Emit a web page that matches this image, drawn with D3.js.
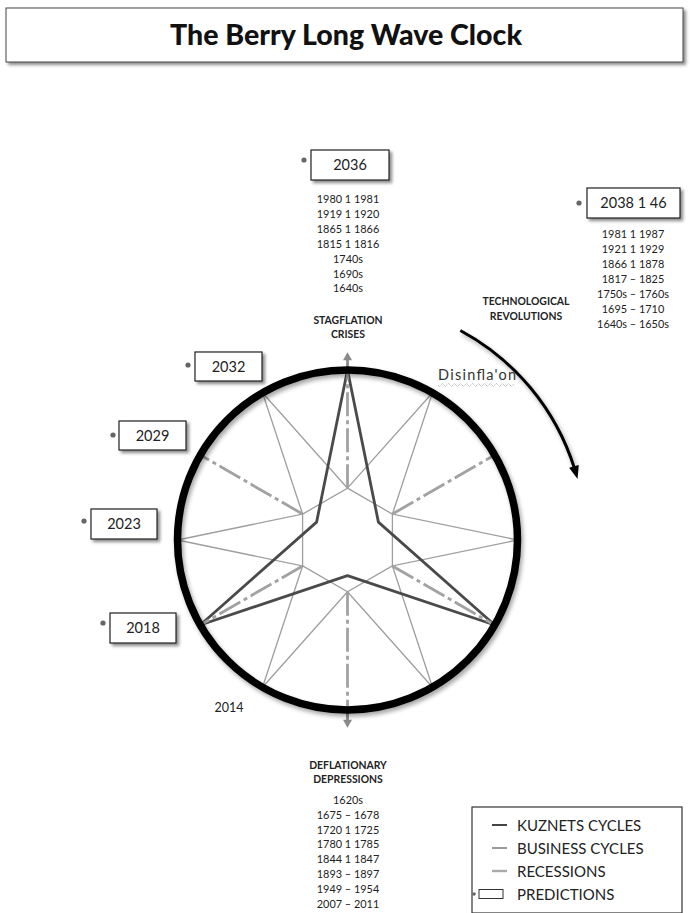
<!DOCTYPE html>
<html>
<head>
<meta charset="utf-8">
<script src="https://cdn.jsdelivr.net/npm/d3@7"></script>
<style>
  html, body { margin: 0; padding: 0; background: #fff; }
  svg { display: block; }
  text { font-family: Lato, "Open Sans", sans-serif; }
</style>
</head>
<body>
<svg id="chart" width="690" height="913"></svg>
<script>
// ---------------- DATA ----------------
const title = "The Berry Long Wave Clock";

// Kuznets cycles: 3-pointed star (angle in degrees, radius as fraction of clock radius)
const kuznetsAngles = [0, 60, 120, 180, 240, 300];
const kuznetsRadii  = [1, 0.21, 1, 0.21, 1, 0.21];

// Business cycles: 6-pointed star plus inner hexagon
const businessAngles = [0, 30, 60, 90, 120, 150, 180, 210, 240, 270, 300, 330];
const businessRadii  = [0.305, 1, 0.305, 1, 0.305, 1, 0.305, 1, 0.305, 1, 0.305, 1];
const hexagonAngles  = [0, 60, 120, 180, 240, 300];
const hexagonRadius  = 0.305;

// Recessions: radial dash-dot spokes
const recessionAngles = [0, 60, 120, 180, 240, 300];
const recessionInner  = [0.305, 0.305, 0.305, 0.305, 0.305, 0.305];
const recessionOuter  = [1.07, 1, 1, 1.07, 1, 1];
const recessionArrow  = [true, false, false, true, false, false];

// Predictions
const predictionLabels = ["2036", "2038 1 46", "2032", "2029", "2023", "2018"];

// Era labels
const stagflationTitle = ["STAGFLATION", "CRISES"];
const stagflationYears = ["1980 1 1981", "1919 1 1920", "1865 1 1866", "1815 1 1816", "1740s", "1690s", "1640s"];
const techTitle = ["TECHNOLOGICAL", "REVOLUTIONS"];
const techYears = ["1981 1 1987", "1921 1 1929", "1866 1 1878", "1817 \u2013 1825", "1750s \u2013 1760s", "1695 \u2013 1710", "1640s \u2013 1650s"];
const deflationTitle = ["DEFLATIONARY", "DEPRESSIONS"];
const deflationYears = ["1620s", "1675 \u2013 1678", "1720 1 1725", "1780 1 1785", "1844 1 1847", "1893 \u2013 1897", "1949 \u2013 1954", "2007 \u2013 2011"];

const disinflationLabel = "Disinfla'on";
const startLabel = "2014";

const legendLabels = ["KUZNETS CYCLES", "BUSINESS CYCLES", "RECESSIONS", "PREDICTIONS"];

// ---------------- LAYOUT ----------------
const svg = d3.select("#chart");
const cx = 347.5, cy = 540, R = 170;
const rScale = d3.scaleLinear().domain([0, 1]).range([0, R]);
const aScale = d3.scaleLinear().domain([0, 360]).range([0, 2 * Math.PI]);
const pt = (deg, r) => {
  const a = aScale(deg);
  return [cx + rScale(r) * Math.sin(a), cy - rScale(r) * Math.cos(a)];
};

const defs = svg.append("defs");
const shadow = defs.append("filter").attr("id", "shadow")
  .attr("x", "-20%").attr("y", "-20%").attr("width", "150%").attr("height", "160%");
shadow.append("feDropShadow").attr("dx", 2.5).attr("dy", 2.5)
  .attr("stdDeviation", 1.6).attr("flood-color", "#000").attr("flood-opacity", 0.45);
const circShadow = defs.append("filter").attr("id", "cshadow")
  .attr("x", "-10%").attr("y", "-10%").attr("width", "125%").attr("height", "125%");
circShadow.append("feDropShadow").attr("dx", 2).attr("dy", 3)
  .attr("stdDeviation", 2.2).attr("flood-color", "#000").attr("flood-opacity", 0.35);

// Title
svg.append("rect").attr("x", 6).attr("y", 8).attr("width", 677).attr("height", 54)
  .attr("fill", "#fff").attr("stroke", "#444").attr("stroke-width", 1)
  .attr("filter", "url(#shadow)");
const tt = svg.append("text").attr("x", 346).attr("y", 45)
  .attr("text-anchor", "middle").attr("font-weight", 900)
  .attr("font-size", 26).attr("fill", "#111").text(title);
const tw = tt.node().getComputedTextLength();
tt.attr("font-size", 26 * 352 / tw);

const g = svg.append("g");

// Business cycles
const radial = d3.lineRadial()
  .angle(d => aScale(d[0]))
  .radius(d => rScale(d[1]))
  .curve(d3.curveLinearClosed);
const gc = g.append("g").attr("transform", `translate(${cx},${cy})`);
gc.append("path")
  .attr("d", radial(businessAngles.map((a, i) => [a, businessRadii[i]])))
  .attr("fill", "none").attr("stroke", "#9e9e9e").attr("stroke-width", 1.3);
gc.append("path")
  .attr("d", radial(hexagonAngles.map(a => [a, hexagonRadius])))
  .attr("fill", "none").attr("stroke", "#9e9e9e").attr("stroke-width", 1.3);

// Recessions
recessionAngles.forEach((a, i) => {
  const p0 = pt(a, recessionInner[i]);
  const p1 = pt(a, recessionOuter[i]);
  g.append("line")
    .attr("x1", p0[0]).attr("y1", p0[1]).attr("x2", p1[0]).attr("y2", p1[1])
    .attr("stroke", "#a2a2a2").attr("stroke-width", 2.8)
    .attr("stroke-dasharray", "24,4,4,4");
  if (recessionArrow[i]) {
    const tip = pt(a, 1.105);
    const dir = a === 0 ? -1 : 1;
    g.append("path")
      .attr("d", `M${tip[0]},${tip[1]} L${tip[0] - 4.5},${tip[1] - dir * 8} L${tip[0] + 4.5},${tip[1] - dir * 8} Z`)
      .attr("fill", "#8a8a8a");
    g.append("line")
      .attr("x1", pt(a, 0.98)[0]).attr("y1", pt(a, 0.98)[1])
      .attr("x2", tip[0]).attr("y2", tip[1] - dir * 7)
      .attr("stroke", "#8a8a8a").attr("stroke-width", 2.2);
  }
});

// Kuznets cycles
gc.append("path")
  .attr("d", radial(kuznetsAngles.map((a, i) => [a, kuznetsRadii[i]])))
  .attr("fill", "none").attr("stroke", "#4a4a4a").attr("stroke-width", 2.8)
  .attr("stroke-linejoin", "round");

// Clock circle
g.append("circle").attr("cx", cx).attr("cy", cy).attr("r", R)
  .attr("fill", "none").attr("stroke", "#000").attr("stroke-width", 7.5)
  .attr("filter", "url(#cshadow)");

// Curved arrow (technological revolutions)
const arcR = 238;
const arcStart = 28.3, arcEnd = 72.5;
const ap = d3.path();
ap.arc(cx, cy, arcR, aScale(arcStart) - Math.PI / 2, aScale(arcEnd) - Math.PI / 2, false);
svg.append("path").attr("d", ap.toString()).attr("fill", "none")
  .attr("stroke", "#000").attr("stroke-width", 3).attr("filter", "url(#cshadow)");
{
  const a = aScale(arcEnd + 1.5);
  const tip = [cx + (arcR) * Math.sin(a + 0.02), cy - arcR * Math.cos(a + 0.02)];
  const tx = Math.cos(a), ty = Math.sin(a); // tangent
  const nx = -ty, ny = tx;
  const bx = tip[0] - tx * 13, by = tip[1] - ty * 13;
  svg.append("path")
    .attr("d", `M${tip[0]},${tip[1]} L${bx + nx * 5},${by + ny * 5} L${bx - nx * 5},${by - ny * 5} Z`)
    .attr("fill", "#000");
}

// Era text blocks
function column(lines, x, y0, step, size, weight, fill) {
  svg.append("g").selectAll("text").data(lines).join("text")
    .attr("x", x).attr("y", (d, i) => y0 + i * step)
    .attr("text-anchor", "middle").attr("font-size", size)
    .attr("font-weight", weight).attr("fill", fill).text(d => d);
}
column(stagflationYears, 348, 203, 14.9, 10.9, 400, "#222");
column(stagflationTitle, 348, 324, 14, 10.4, 700, "#222");
column(techYears, 633, 238, 15, 10.9, 400, "#222");
column(techTitle, 526, 305, 14.5, 10.4, 700, "#222");
column(deflationTitle, 348, 769, 14, 10.4, 700, "#222");
column(deflationYears, 348, 804, 14.8, 10.9, 400, "#222");

// Disinflation label with wavy underline
svg.append("text").attr("x", 438).attr("y", 380).attr("font-size", 14.5)
  .attr("textLength", 78).attr("lengthAdjust", "spacing")
  .attr("fill", "#333").text(disinflationLabel);
{
  let d = "M438,385";
  for (let x = 438; x < 516; x += 3) d += ` L${x + 1.5},${x % 6 === 0 ? 386.5 : 383.5}`;
  svg.append("path").attr("d", d).attr("fill", "none").attr("stroke", "#9a9a9a")
    .attr("stroke-width", 0.8).attr("stroke-dasharray", "1.2,0.8");
}

svg.append("text").attr("x", 229).attr("y", 712).attr("text-anchor", "middle")
  .attr("font-size", 12.5).attr("fill", "#222").text(startLabel);

// Prediction boxes
const predictionBoxes = [
  { x: 311, y: 150, w: 78, h: 30, dx: 304, dy: 160 },
  { x: 587, y: 188, w: 93, h: 30, dx: 579, dy: 203 },
  { x: 195, y: 352, w: 67, h: 29, dx: 188, dy: 365 },
  { x: 119, y: 421, w: 67, h: 29, dx: 113, dy: 435 },
  { x: 91,  y: 509, w: 66, h: 30, dx: 84,  dy: 521 },
  { x: 110, y: 613, w: 66, h: 30, dx: 103, dy: 623 }
];
const pg = svg.append("g").selectAll("g").data(predictionLabels).join("g");
pg.append("rect")
  .attr("x", (d, i) => predictionBoxes[i].x).attr("y", (d, i) => predictionBoxes[i].y)
  .attr("width", (d, i) => predictionBoxes[i].w).attr("height", (d, i) => predictionBoxes[i].h)
  .attr("fill", "#fff").attr("stroke", "#222").attr("stroke-width", 1.2)
  .attr("filter", "url(#shadow)");
pg.append("text")
  .attr("x", (d, i) => predictionBoxes[i].x + predictionBoxes[i].w / 2)
  .attr("y", (d, i) => predictionBoxes[i].y + predictionBoxes[i].h / 2 + 5)
  .attr("text-anchor", "middle").attr("font-size", 14.5).attr("fill", "#222")
  .text(d => d);
pg.append("circle")
  .attr("cx", (d, i) => predictionBoxes[i].dx).attr("cy", (d, i) => predictionBoxes[i].dy)
  .attr("r", 2.6).attr("fill", "#666");

// Legend
const lg = svg.append("g");
lg.append("rect").attr("x", 472).attr("y", 807).attr("width", 210).attr("height", 106)
  .attr("fill", "#fff").attr("stroke", "#333").attr("stroke-width", 1.2);
const legendY = [826, 849, 872, 895];
const legendStroke = ["#444", "#999", "#aaa"];
const legendWidth = [2, 2, 2.4];
legendLabels.forEach((lab, i) => {
  if (i < 3) {
    lg.append("line").attr("x1", 492).attr("x2", 507)
      .attr("y1", legendY[i] - 1).attr("y2", legendY[i] - 1)
      .attr("stroke", legendStroke[i]).attr("stroke-width", legendWidth[i]);
  } else {
    lg.append("circle").attr("cx", 474).attr("cy", legendY[i] - 1).attr("r", 1.8).attr("fill", "#666");
    lg.append("rect").attr("x", 479).attr("y", legendY[i] - 5.5).attr("width", 24).attr("height", 9)
      .attr("fill", "#fff").attr("stroke", "#333").attr("stroke-width", 1);
  }
  lg.append("text").attr("x", 517).attr("y", legendY[i] + 5)
    .attr("font-size", 15).attr("fill", "#222").text(lab);
});
</script>
</body>
</html>
